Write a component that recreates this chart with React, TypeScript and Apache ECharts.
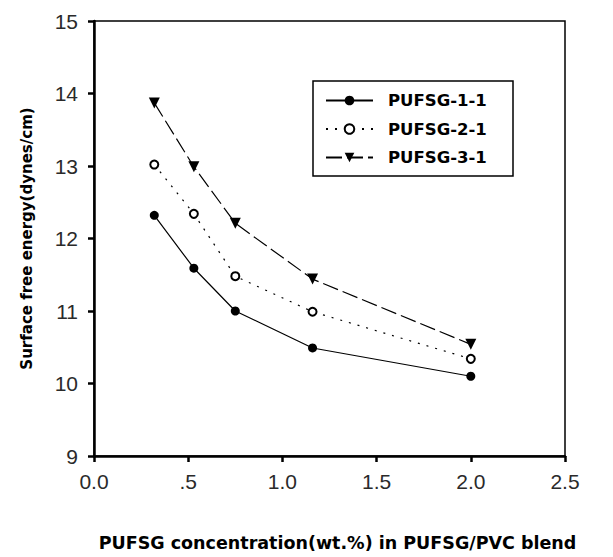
import React, { useEffect, useRef } from "react";
import * as echarts from "echarts";

const xValues = [0.32, 0.53, 0.75, 1.16, 2.0];
const series1 = [12.32, 11.59, 11.0, 10.49, 10.1];
const series2 = [13.02, 12.34, 11.48, 10.99, 10.34];
const series3 = [13.87, 12.99, 12.21, 11.44, 10.54];
const seriesNames = ["PUFSG-1-1", "PUFSG-2-1", "PUFSG-3-1"];
const xTickLabels: Record<string, string> = { "0": "0.0", "0.5": ".5", "1": "1.0", "1.5": "1.5", "2": "2.0", "2.5": "2.5" };

export default function App() {
  const ref = useRef<HTMLDivElement>(null);
  useEffect(() => {
    const chart = echarts.init(ref.current!, undefined, { renderer: "svg" });
    const pair = (ys: number[]) => xValues.map((x, i) => [x, ys[i]]);
    const boldFont = "DejaVu Sans, Verdana, sans-serif";
    const tickFont = "Liberation Sans, Arial, sans-serif";
    chart.setOption({
      animation: false,
      backgroundColor: "#fff",
      grid: { left: 94, right: 48, top: 21, bottom: 96, show: true, borderColor: "#000", borderWidth: 1.5, backgroundColor: "transparent" },
      graphic: [
        {
          type: "rect",
          shape: { x: 313, y: 81, width: 200, height: 95 },
          style: { fill: "none", stroke: "#000", lineWidth: 1.5 },
          z: 10,
        },
      ],
      legend: {
        orient: "vertical",
        left: 325,
        top: 92,
        padding: 0,
        itemGap: 11.5,
        itemWidth: 47,
        itemHeight: 12,
        textStyle: { fontFamily: boldFont, fontWeight: "bold", fontSize: 16.5, color: "#000", padding: [0, 0, 0, 10] },
        data: seriesNames,
      },
      xAxis: {
        type: "value",
        min: 0,
        max: 2.5,
        interval: 0.5,
        name: "PUFSG concentration(wt.%) in PUFSG/PVC blend",
        nameLocation: "middle",
        nameGap: 78,
        nameTextStyle: { fontFamily: boldFont, fontWeight: "bold", fontSize: 17.5, color: "#000", padding: [0, 0, 0, 16] },
        axisLine: { lineStyle: { color: "#000", width: 2.5 } },
        axisTick: { inside: false, length: 6, lineStyle: { color: "#000", width: 2.5 } },
        axisLabel: {
          fontFamily: tickFont,
          fontSize: 21,
          color: "#2a2a2a",
          margin: 15,
          formatter: (v: number) => xTickLabels[String(v)] ?? String(v),
        },
        splitLine: { show: false },
      },
      yAxis: {
        type: "value",
        min: 9,
        max: 15,
        interval: 1,
        name: "Surface free energy(dynes/cm)",
        nameLocation: "middle",
        nameGap: 60,
        nameTextStyle: { fontFamily: boldFont, fontWeight: "bold", fontSize: 15, color: "#000" },
        axisLine: { show: true, lineStyle: { color: "#000", width: 2.5 } },
        axisTick: { show: true, inside: false, length: 6, lineStyle: { color: "#000", width: 2.5 } },
        axisLabel: { fontFamily: tickFont, fontSize: 21, color: "#2a2a2a", margin: 16 },
        splitLine: { show: false },
      },
      series: [
        {
          name: seriesNames[0],
          type: "line",
          data: pair(series1),
          symbol: "circle",
          symbolSize: 9,
          itemStyle: { color: "#000" },
          lineStyle: { color: "#000", width: 1.2, type: "solid" },
        },
        {
          name: seriesNames[1],
          type: "line",
          data: pair(series2),
          symbol: "emptyCircle",
          symbolSize: 8,
          itemStyle: { color: "#000", borderColor: "#000", borderWidth: 1.2 },
          lineStyle: { color: "#000", width: 1.2, type: [2, 7] },
        },
        {
          name: seriesNames[2],
          type: "line",
          data: pair(series3),
          symbol: "triangle",
          symbolRotate: 180,
          symbolSize: 11,
          itemStyle: { color: "#000" },
          lineStyle: { color: "#000", width: 1.2, type: [16, 5] },
        },
      ],
    });
    return () => chart.dispose();
  }, []);
  return <div ref={ref} style={{ width: 613, height: 557, position: "absolute", left: 0, top: 0 }} />;
}
